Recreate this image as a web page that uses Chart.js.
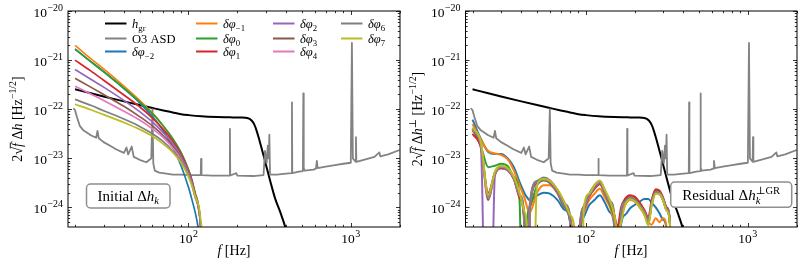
<!DOCTYPE html>
<html>
<head>
<meta charset="utf-8">
<script src="https://cdn.jsdelivr.net/npm/chart.js@4"></script>
<style>
  html, body { margin: 0; padding: 0; background: #fff; }
  #wrap { position: relative; width: 802px; height: 270px; }
  canvas { position: absolute; top: 0; }
  #left { left: 0; }
  #right { left: 401px; }
</style>
</head>
<body>
<div id="wrap">
  <canvas id="left" width="401" height="270"></canvas>
  <canvas id="right" width="401" height="270"></canvas>
</div>
<script>
const SERIF = '"Liberation Serif", "DejaVu Serif", serif';
Chart.defaults.font.family = SERIF;
Chart.defaults.color = "#000";

const X_MIN = 18.1;
const X_MAX = 2010;
const Y_MIN = 4.4e-25;
const Y_MAX = 1e-20;
const X_MAJOR = [100, 1000];
const Y_MAJOR = [1e-24, 1e-23, 1e-22, 1e-21, 1e-20];

// all amplitudes below are log10 values
const HGR_FREQ = [20, 25, 30, 40, 50, 60, 70, 80, 90, 100, 120, 150, 180, 210, 230, 245, 255, 263, 273, 283, 295, 304, 320, 342, 370, 394, 440];
const HGR_LOG = [-21.595, -21.675, -21.74, -21.84, -21.915, -21.975, -22.025, -22.065, -22.1, -22.12, -22.145, -22.16, -22.165, -22.17, -22.18, -22.23, -22.32, -22.44, -22.62, -22.81, -23.03, -23.2, -23.48, -23.82, -24.12, -24.39, -25.0];

const ASD_FREQ = [19.5, 20, 20.5, 21.4, 22.5, 23.5, 25, 27, 27.5, 28, 30, 32.7, 36, 40, 41.5, 42.5, 44.7, 46, 50, 55, 57.5, 59, 60, 60.7, 62, 66, 73, 80, 90, 100, 110, 119, 119.5, 120.3, 140, 160, 179.5, 180, 180.8, 197, 200, 250, 290, 296, 303, 308, 312, 315, 318, 350, 400, 432, 434, 436, 480, 507, 510, 513, 520, 589, 610, 618, 625, 700, 800, 900, 1000, 1016, 1030, 1070, 1076, 1082, 1200, 1400, 1500, 1520, 1700, 2000];
const ASD_LOG = [-21.98, -22.02, -22.15, -22.34, -22.43, -22.47, -22.53, -22.58, -22.44, -22.59, -22.67, -22.74, -22.82, -22.89, -22.78, -22.92, -22.76, -22.97, -23.03, -23.08, -23.03, -23.0, -22.0, -23.1, -23.25, -23.29, -23.31, -23.33, -23.33, -23.34, -23.34, -23.34, -23.01, -23.34, -23.35, -23.35, -23.35, -22.4, -23.35, -23.3, -23.35, -23.36, -23.34, -22.85, -23.1, -22.74, -23.0, -22.52, -23.33, -23.33, -23.31, -23.3, -21.86, -23.3, -23.27, -23.26, -21.68, -23.2, -23.25, -23.23, -23.21, -23.05, -23.2, -23.17, -23.14, -23.11, -23.09, -20.65, -23.0, -23.07, -22.57, -23.07, -23.03, -22.97, -22.88, -22.96, -22.92, -22.83];

// initial Δh_k
const DPHI_FREQ = [20, 25, 30, 40, 50, 60, 70, 80, 90, 100, 105, 110, 114, 117, 119, 120.5, 122];
const dphiM2 = [-20.77, -21.03, -21.23, -21.58, -21.87, -22.15, -22.44, -22.77, -23.15, -23.59, -23.84, -24.1, -24.36, -25.1, -30, -30, -30];
const dphiM1 = [-20.7, -20.97, -21.18, -21.53, -21.82, -22.08, -22.34, -22.6, -22.89, -23.24, -23.46, -23.74, -23.91, -24.14, -24.41, -24.83, -28];
const dphi0 = [-20.78, -21.03, -21.24, -21.57, -21.85, -22.09, -22.34, -22.6, -22.88, -23.23, -23.44, -23.71, -23.88, -24.11, -24.38, -24.8, -28];
const dphi1 = [-21.0, -21.22, -21.41, -21.71, -21.95, -22.18, -22.41, -22.65, -22.92, -23.26, -23.46, -23.73, -23.9, -24.12, -24.39, -24.8, -28];
const dphi2 = [-21.19, -21.39, -21.55, -21.82, -22.05, -22.26, -22.48, -22.7, -22.96, -23.28, -23.49, -23.75, -23.91, -24.13, -24.4, -24.81, -28];
const dphi3 = [-21.37, -21.55, -21.7, -21.94, -22.15, -22.34, -22.54, -22.75, -23.0, -23.31, -23.51, -23.77, -23.93, -24.15, -24.41, -24.82, -28];
const dphi4 = [-21.53, -21.69, -21.82, -22.04, -22.22, -22.4, -22.58, -22.79, -23.02, -23.33, -23.52, -23.77, -23.93, -24.15, -24.41, -24.82, -28];
const dphi6 = [-21.8, -21.92, -22.03, -22.2, -22.35, -22.5, -22.66, -22.85, -23.06, -23.35, -23.54, -23.79, -23.94, -24.12, -24.35, -24.7, -28];
const dphi7 = [-21.9, -22.01, -22.11, -22.27, -22.41, -22.55, -22.71, -22.88, -23.09, -23.38, -23.56, -23.78, -23.9, -24.05, -24.25, -24.5, -28];

// residual Δh_k^⊥GR
const RES_FREQ = [20, 22.5, 25, 27.5, 30, 33, 36, 39, 42, 43.5, 45, 50, 55, 60, 67, 74, 80, 86, 92, 97, 105, 113, 122, 131, 141, 150, 157, 165, 175, 187, 200, 215, 230, 243, 255, 270, 285, 300, 315, 330, 345];
const resM2 = [-22.21, -22.6, -22.87, -22.91, -22.91, -23.0, -23.18, -23.48, -23.72, -23.8, -23.85, -23.76, -23.7, -23.72, -23.85, -24.05, -24.3, -30, -24.6, -24.2, -23.95, -23.85, -23.75, -23.9, -24.1, -24.4, -30, -24.35, -24.15, -24.02, -23.95, -23.88, -23.83, -23.83, -23.9, -24.0, -24.12, -24.25, -24.45, -30, -30];
const resM1 = [-22.3, -22.62, -22.85, -22.9, -22.93, -23.02, -23.25, -23.55, -23.82, -24.0, -24.1, -23.7, -23.55, -23.55, -23.72, -24.0, -24.3, -30, -24.5, -24.1, -23.85, -23.72, -23.62, -23.8, -24.0, -24.3, -24.6, -24.2, -23.95, -23.85, -23.88, -24.0, -24.15, -24.3, -24.35, -24.22, -24.3, -24.22, -24.4, -30, -30];
const res0 = [-22.4, -22.75, -23.18, -23.15, -23.11, -23.16, -23.38, -23.85, -30, -24.3, -24.0, -23.55, -23.45, -23.5, -23.7, -24.0, -24.3, -30, -24.4, -24.0, -23.75, -23.62, -23.52, -23.72, -23.95, -24.2, -24.5, -24.1, -23.85, -23.78, -23.82, -23.95, -24.1, -24.35, -23.9, -23.65, -23.68, -23.82, -24.0, -24.3, -30];
const res1 = [-22.5, -22.78, -23.7, -23.3, -23.2, -23.24, -23.43, -23.8, -24.5, -30, -24.1, -23.5, -23.4, -23.45, -23.65, -23.92, -24.2, -24.7, -24.45, -24.05, -23.78, -23.62, -23.52, -23.68, -23.88, -24.15, -24.4, -24.0, -23.82, -23.75, -23.78, -23.9, -24.05, -24.2, -23.85, -23.63, -23.66, -23.8, -24.0, -24.25, -30];
const res2 = [-22.45, -22.75, -30, -23.35, -23.2, -23.24, -23.42, -23.76, -24.4, -30, -24.05, -23.52, -23.43, -23.5, -23.7, -23.98, -24.25, -30, -24.45, -24.05, -23.77, -23.6, -23.5, -23.7, -23.92, -24.25, -30, -24.15, -23.9, -23.8, -23.84, -23.96, -24.1, -24.28, -23.92, -23.7, -23.72, -23.86, -24.05, -24.3, -30];
const res3 = [-22.42, -22.72, -23.85, -23.32, -23.19, -23.23, -23.41, -23.75, -24.4, -30, -24.03, -23.5, -23.42, -23.48, -23.68, -23.96, -24.22, -30, -24.42, -24.02, -23.75, -23.58, -23.48, -23.68, -23.9, -24.22, -30, -24.18, -23.92, -23.82, -23.86, -23.98, -24.12, -24.3, -23.94, -23.7, -23.72, -23.85, -24.05, -24.3, -30];
const res4 = [-22.4, -22.7, -23.8, -23.3, -23.17, -23.22, -23.4, -23.74, -24.35, -30, -24.0, -23.47, -23.4, -23.46, -23.66, -23.94, -24.2, -30, -24.4, -24.0, -23.73, -23.56, -23.47, -23.66, -23.88, -24.2, -30, -24.15, -23.9, -23.8, -23.84, -23.96, -24.1, -24.28, -23.92, -23.69, -23.71, -23.84, -24.03, -24.28, -30];
const res6 = [-22.38, -22.68, -23.78, -23.28, -23.16, -23.21, -23.39, -23.73, -24.3, -30, -23.98, -23.46, -23.39, -23.45, -23.65, -23.93, -24.18, -30, -24.38, -23.98, -23.72, -23.55, -23.46, -23.65, -23.87, -24.18, -30, -24.12, -23.88, -23.79, -23.83, -23.95, -24.09, -24.26, -23.91, -23.68, -23.7, -23.83, -24.02, -24.27, -30];
const res7 = [-22.37, -22.66, -23.75, -23.27, -23.15, -23.2, -23.38, -23.7, -24.1, -24.5, -30, -23.55, -23.42, -23.46, -23.64, -23.9, -24.15, -24.6, -30, -24.05, -23.72, -23.55, -23.45, -23.64, -23.86, -24.15, -24.5, -24.3, -23.95, -23.84, -23.87, -23.99, -24.15, -24.36, -23.96, -23.72, -23.73, -23.86, -24.06, -24.32, -30];

const DPHI_SUBS = ["−2", "−1", "0", "1", "2", "3", "4", "6", "7"];
const COLORS = ["#1f77b4", "#ff7f0e", "#2ca02c", "#d62728", "#9467bd", "#8c564b", "#e377c2", "#7f7f7f", "#bcbd22"];
const ASD_COLOR = "#838383";
const INITIAL = [dphiM2, dphiM1, dphi0, dphi1, dphi2, dphi3, dphi4, dphi6, dphi7];
const RESIDUAL = [resM2, resM1, res0, res1, res2, res3, res4, res6, res7];

const toPoints = (freqs, logs) => freqs.map((f, i) => ({ x: f, y: Math.pow(10, logs[i]) }));

const fontOf = (size, italic) => (italic ? "italic " : "") + size + "px " + SERIF;

// draws text with italics, subscripts and superscripts
const drawRich = (ctx, segs, x, y, fs, align, supRatio = 0.7) => {
  const parts = [];
  let cx = 0;
  let prevStart = 0;
  for (const s of segs) {
    const size = s.s ? fs * supRatio : fs;
    const font = fontOf(size, s.i);
    ctx.font = font;
    const w = ctx.measureText(s.t).width;
    const start = s.back ? prevStart : cx + (s.gap || 0);
    const dy = s.s === "sub" ? fs * 0.25 : s.s === "sup" ? -fs * 0.42 : 0;
    parts.push({ t: s.t, font, x: start, dy, w, over: s.over });
    prevStart = start;
    cx = Math.max(cx, start + w);
  }
  const x0 = align === "center" ? x - cx / 2 : align === "right" ? x - cx : x;
  ctx.textAlign = "left";
  ctx.textBaseline = "alphabetic";
  for (const p of parts) {
    ctx.font = p.font;
    ctx.fillText(p.t, x0 + p.x, y + p.dy);
    if (p.over) {
      ctx.lineWidth = 0.9;
      ctx.beginPath();
      ctx.moveTo(x0 + p.x - 1.5, y - fs * 0.8);
      ctx.lineTo(x0 + p.x + p.w + 0.5, y - fs * 0.8);
      ctx.stroke();
    }
  }
};

const expSegs = (v) => {
  const e = Math.round(Math.log10(v));
  return [{ t: "10" }, { t: (e < 0 ? "−" : "") + Math.abs(e), s: "sup", gap: 0.5 }];
};

const logTicks = (lo, hi) => {
  const out = [];
  for (let e = Math.floor(Math.log10(lo)); e <= Math.ceil(Math.log10(hi)); e++) {
    for (let m = 1; m < 10; m++) {
      const v = m * Math.pow(10, e);
      if (v >= lo * 0.9999 && v <= hi * 1.0001) out.push([v, m === 1]);
    }
  }
  return out;
};

// inward ticks on all four sides, the frame and the decade labels
const frameTicks = {
  id: "frameTicks",
  afterDatasetsDraw(chart) {
    const { ctx, chartArea: a, scales } = chart;
    ctx.save();
    ctx.strokeStyle = "#000";
    ctx.lineWidth = 0.8;
    ctx.beginPath();
    for (const [v, major] of logTicks(X_MIN, X_MAX)) {
      const px = Math.round(scales.x.getPixelForValue(v)) + 0.5;
      const len = major ? 4 : 2.2;
      ctx.moveTo(px, a.bottom);
      ctx.lineTo(px, a.bottom - len);
      ctx.moveTo(px, a.top);
      ctx.lineTo(px, a.top + len);
    }
    for (const [v, major] of logTicks(Y_MIN, Y_MAX)) {
      const py = Math.round(scales.y.getPixelForValue(v)) + 0.5;
      const len = major ? 4 : 2.2;
      ctx.moveTo(a.left, py);
      ctx.lineTo(a.left + len, py);
      ctx.moveTo(a.right, py);
      ctx.lineTo(a.right - len, py);
    }
    ctx.stroke();
    ctx.lineWidth = 1;
    ctx.strokeRect(a.left, a.top, a.width, a.height);

    ctx.fillStyle = "#000";
    for (const t of scales.x.ticks) {
      drawRich(ctx, expSegs(t.value), scales.x.getPixelForValue(t.value), 243, 13.5, "center", 0.74);
    }
    for (const t of scales.y.ticks) {
      drawRich(ctx, expSegs(t.value), a.left - 5, scales.y.getPixelForValue(t.value) + 5.5, 13.5, "right", 0.74);
    }
    ctx.restore();
  },
};

const roundBox = (ctx, x, y, w, h, r) => {
  ctx.beginPath();
  ctx.roundRect(x, y, w, h, r);
  ctx.fillStyle = "#fff";
  ctx.fill();
  ctx.strokeStyle = "#8f8f8f";
  ctx.lineWidth = 1.5;
  ctx.stroke();
  ctx.fillStyle = "#000";
  ctx.strokeStyle = "#000";
};

const yTitle = (ctx, cx, cy, perp) => {
  ctx.save();
  ctx.translate(cx, cy);
  ctx.rotate(-Math.PI / 2);
  const segs = [{ t: "2" }, { t: "√" }, { t: "f", i: true, over: true }, { t: " Δ" }, { t: "h", i: true }];
  if (perp) segs.push({ t: "⊥", s: "sup" });
  segs.push({ t: " [Hz" }, { t: "−1/2", s: "sup" }, { t: "]" });
  drawRich(ctx, segs, 0, 5, 14, "center");
  ctx.restore();
};

const LEGEND = [
  { color: "#000", segs: [{ t: "h", i: true }, { t: "gr", s: "sub" }], col: 0, row: 0 },
  { color: ASD_COLOR, segs: [{ t: "O3 ASD" }], col: 0, row: 1 },
  ...DPHI_SUBS.map((sub, k) => ({
    color: COLORS[k],
    segs: [{ t: "δφ", i: true }, { t: sub, s: "sub" }],
    col: Math.floor((k + 2) / 3),
    row: (k + 2) % 3,
  })),
];
const LEG_COL_X = [105, 196, 273, 341];
const LEG_ROW_Y = [23.5, 38.5, 51.5];

const leftDeco = {
  id: "leftDeco",
  afterDraw(chart) {
    const { ctx } = chart;
    ctx.save();
    ctx.fillStyle = "#000";
    ctx.strokeStyle = "#000";
    for (const item of LEGEND) {
      const lx = LEG_COL_X[item.col];
      const ly = LEG_ROW_Y[item.row];
      ctx.strokeStyle = item.color;
      ctx.lineWidth = 2;
      ctx.beginPath();
      ctx.moveTo(lx, ly);
      ctx.lineTo(lx + 21.5, ly);
      ctx.stroke();
      ctx.strokeStyle = "#000";
      drawRich(ctx, item.segs, lx + 27, ly + 4, 12.5, "left");
    }
    roundBox(ctx, 86.5, 184, 83.5, 24, 4);
    drawRich(ctx, [{ t: "Initial Δ" }, { t: "h", i: true }, { t: "k", i: true, s: "sub" }], 128.3, 200.5, 15, "center");
    yTitle(ctx, 16.5, 119, false);
    drawRich(ctx, [{ t: "f", i: true }, { t: " [Hz]" }], 234, 255, 14, "center");
    ctx.restore();
  },
};

const rightDeco = {
  id: "rightDeco",
  afterDraw(chart) {
    const { ctx } = chart;
    ctx.save();
    ctx.fillStyle = "#000";
    roundBox(ctx, 269.7, 182, 121, 25.3, 4);
    drawRich(ctx, [
      { t: "Residual Δ" },
      { t: "h", i: true },
      { t: "k", i: true, s: "sub" },
      { t: "⊥GR", s: "sup", back: true },
    ], 330.2, 200, 15, "center");
    yTitle(ctx, 15.5, 119, true);
    drawRich(ctx, [{ t: "f", i: true }, { t: " [Hz]" }], 230, 255, 14, "center");
    ctx.restore();
  },
};

const baseSets = () => [
  { data: toPoints(HGR_FREQ, HGR_LOG), borderColor: "#000", borderWidth: 2, order: 100, cubicInterpolationMode: "monotone" },
  { data: toPoints(ASD_FREQ, ASD_LOG), borderColor: ASD_COLOR, borderWidth: 1.8, order: 90, tension: 0 },
];

const leftSets = baseSets().concat(INITIAL.map((logs, k) => ({
  data: toPoints(DPHI_FREQ, logs),
  borderColor: COLORS[k],
  borderWidth: 1.7,
  order: 20 - k,
  cubicInterpolationMode: "monotone",
})));

const rightSets = baseSets().concat(RESIDUAL.map((logs, k) => ({
  data: toPoints(RES_FREQ, logs),
  borderColor: COLORS[k],
  borderWidth: 2,
  order: 20 - k,
  cubicInterpolationMode: "monotone",
})));

const makeChart = (id, datasets, deco, yWidth, padRight) =>
  new Chart(document.getElementById(id), {
    type: "line",
    data: { datasets },
    options: {
      responsive: false,
      animation: false,
      devicePixelRatio: 1,
      layout: { padding: { left: 0, right: padRight, top: 11, bottom: 0 } },
      elements: { point: { radius: 0 }, line: { borderJoinStyle: "round" } },
      plugins: { legend: { display: false }, tooltip: { enabled: false } },
      scales: {
        x: {
          type: "logarithmic",
          min: X_MIN,
          max: X_MAX,
          grid: { display: false, drawTicks: false },
          border: { display: false },
          afterBuildTicks: (s) => { s.ticks = X_MAJOR.map((v) => ({ value: v })); },
          afterFit: (s) => { s.height = 43; },
          ticks: { display: false },
        },
        y: {
          type: "logarithmic",
          min: Y_MIN,
          max: Y_MAX,
          grid: { display: false, drawTicks: false },
          border: { display: false },
          afterBuildTicks: (s) => { s.ticks = Y_MAJOR.map((v) => ({ value: v })); },
          afterFit: (s) => { s.width = yWidth; },
          ticks: { display: false },
        },
      },
    },
    plugins: [frameTicks, deco],
  });

makeChart("left", leftSets, leftDeco, 68, 1);
makeChart("right", rightSets, rightDeco, 64.5, 5);
</script>
</body>
</html>
